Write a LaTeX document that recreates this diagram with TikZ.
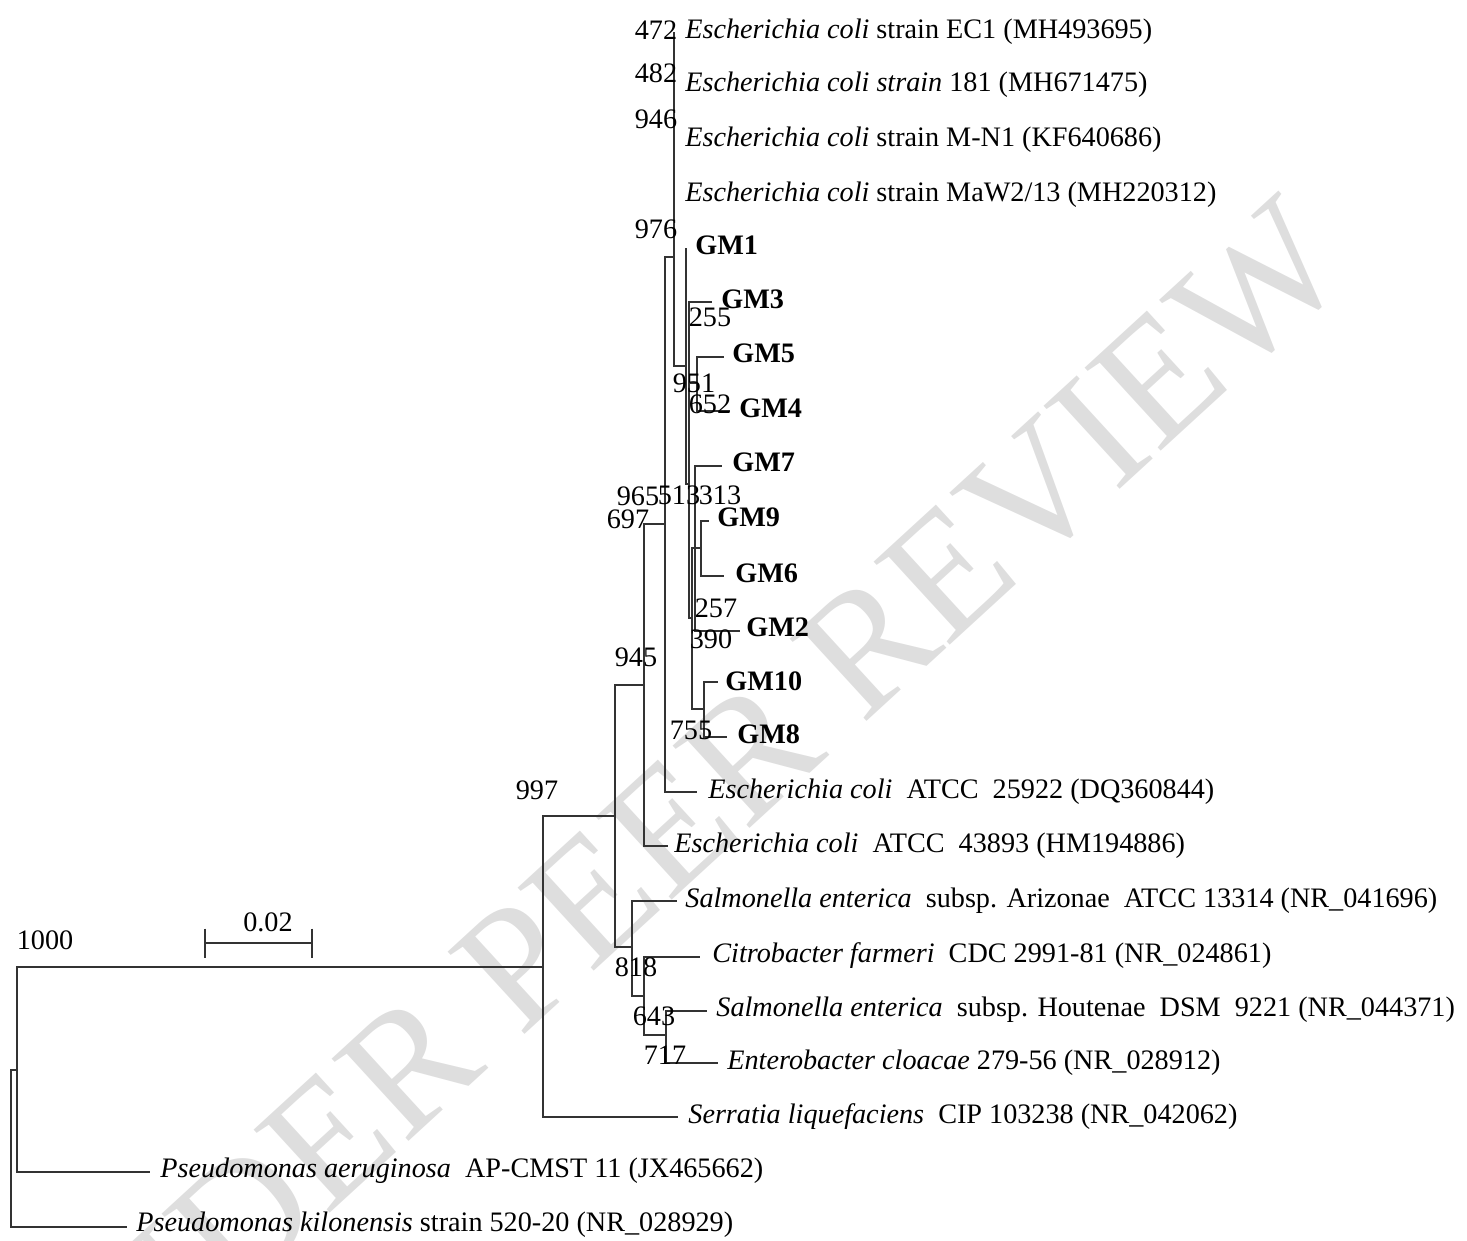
\documentclass[tikz,border=0pt]{standalone}
\usepackage{fontspec}
\setmainfont{Liberation Serif}
\begin{document}
\begin{tikzpicture}[x=0.5pt,y=-0.5pt,
  br/.style={draw=black!80, line width=0.55pt},
  leaf/.style={anchor=west, inner sep=0pt, text height=0.66em, text depth=0pt, font=\fontsize{14.1}{17}\selectfont},
  gm/.style={leaf, font=\fontsize{14.1}{17}\selectfont\bfseries},
  boot/.style={anchor=center, inner sep=0pt, text height=0.66em, text depth=0pt, font=\fontsize{14.1}{17}\selectfont},
  wm/.style={rotate=42.5, text=black!13, inner sep=0pt, text height=0.66em, text depth=0pt, font=\fontsize{86}{86}\selectfont}]
\useasboundingbox (0,0) rectangle (1467,1241);
% watermark
\node[wm] (wmark) at (699,866) {UNDER PEER REVIEW};

% internal nodes
\coordinate (root) at (11,1148);
\coordinate (n1000) at (17,1070);
\coordinate (n997) at (543,967);
\coordinate (n945) at (615,816);
\coordinate (n697) at (644,685);
\coordinate (n965) at (665,524);
\coordinate (n976) at (674,257);
\coordinate (n951) at (686,366);
\coordinate (n255) at (689,484);
\coordinate (n652) at (697,383);
\coordinate (n390) at (692,618);
\coordinate (n313) at (695,548);
\coordinate (n257) at (701,548);
\coordinate (n755) at (704,709);
\coordinate (n818) at (632,947);
\coordinate (n643) at (644,996);
\coordinate (n717) at (666,1035);

% leaf ends
\coordinate (e1) at (674,32);
\coordinate (gm1) at (686,248);
\coordinate (gm3) at (712,302);
\coordinate (gm5) at (724,357);
\coordinate (gm4) at (730,411);
\coordinate (gm7) at (722,466);
\coordinate (gm9) at (709,521);
\coordinate (gm6) at (724,576);
\coordinate (gm2) at (740,631);
\coordinate (gm10) at (718,682);
\coordinate (gm8) at (727,737);
\coordinate (ecA) at (697,792);
\coordinate (ecB) at (668,846);
\coordinate (ariz) at (677,901);
\coordinate (citro) at (700,957);
\coordinate (hout) at (707,1011);
\coordinate (entero) at (718,1063);
\coordinate (serr) at (678,1117);
\coordinate (aer) at (150,1172);
\coordinate (kil) at (127,1227);

% branches
\draw[br] (root) |- (n1000);
\draw[br] (root) |- (kil);
\draw[br] (n1000) |- (n997);
\draw[br] (n1000) |- (aer);
\draw[br] (n997) |- (n945);
\draw[br] (n997) |- (serr);
\draw[br] (n945) |- (n697);
\draw[br] (n945) |- (n818);
\draw[br] (n697) |- (n965);
\draw[br] (n697) |- (ecB);
\draw[br] (n965) |- (n976);
\draw[br] (n965) |- (ecA);
\draw[br] (n976) -- (e1);
\draw[br] (n976) |- (n951);
\draw[br] (n951) -- (gm1);
\draw[br] (n951) |- (n255);
\draw[br] (n255) |- (gm3);
\draw[br] (n255) |- (n652);
\draw[br] (n255) |- (n390);
\draw[br] (n652) |- (gm5);
\draw[br] (n652) |- (gm4);
\draw[br] (n390) |- (n313);
\draw[br] (n390) |- (n755);
\draw[br] (n313) |- (gm7);
\draw[br] (n313) |- (n257);
\draw[br] (n313) |- (gm2);
\draw[br] (n257) |- (gm9);
\draw[br] (n257) |- (gm6);
\draw[br] (n755) |- (gm10);
\draw[br] (n755) |- (gm8);
\draw[br] (n818) |- (ariz);
\draw[br] (n818) |- (n643);
\draw[br] (n643) |- (citro);
\draw[br] (n643) |- (n717);
\draw[br] (n717) |- (hout);
\draw[br] (n717) |- (entero);

% leaf labels
\node[leaf] (t1) at (685,32) {\textit{Escherichia coli} strain EC1 (MH493695)};
\node[leaf] (t2) at (685,85) {\textit{Escherichia coli strain} 181 (MH671475)};
\node[leaf] (t3) at (685,140) {\textit{Escherichia coli} strain M-N1 (KF640686)};
\node[leaf] (t4) at (685,195) {\textit{Escherichia coli} strain MaW2/13 (MH220312)};
\node[gm] (tgm1) at (695,248) {GM1};
\node[gm] (tgm3) at (721,302) {GM3};
\node[gm] (tgm5) at (732,356) {GM5};
\node[gm] (tgm4) at (739,411) {GM4};
\node[gm] (tgm7) at (732,465) {GM7};
\node[gm] (tgm9) at (717,520) {GM9};
\node[gm] (tgm6) at (735,576) {GM6};
\node[gm] (tgm2) at (746,630) {GM2};
\node[gm] (tgm10) at (725,684) {GM10};
\node[gm] (tgm8) at (737,737) {GM8};
\node[leaf] (tecA) at (708,792) {\textit{Escherichia coli}\ \ ATCC\ \ 25922 (DQ360844)};
\node[leaf] (tecB) at (674,846) {\textit{Escherichia coli}\ \ ATCC\ \ 43893 (HM194886)};
\node[leaf] (tariz) at (685,901) {\textit{Salmonella enterica}\ \ subsp. Arizonae\ \ ATCC 13314 (NR\_041696)};
\node[leaf] (tcitro) at (712,956) {\textit{Citrobacter farmeri}\ \ CDC 2991-81 (NR\_024861)};
\node[leaf] (thout) at (716,1010) {\textit{Salmonella enterica}\ \ subsp. Houtenae\ \ DSM\ \ 9221 (NR\_044371)};
\node[leaf] (tentero) at (727,1063) {\textit{Enterobacter cloacae} 279-56 (NR\_028912)};
\node[leaf] (tserr) at (688,1117) {\textit{Serratia liquefaciens}\ \ CIP 103238 (NR\_042062)};
\node[leaf] (taer) at (160,1171) {\textit{Pseudomonas aeruginosa}\ \ AP-CMST 11 (JX465662)};
\node[leaf] (tkil) at (136,1225) {\textit{Pseudomonas kilonensis} strain 520-20 (NR\_028929)};

% bootstrap values
\node[boot] (b1000) at (45,943) {1000};
\node[boot] (b997) at (537,793) {997};
\node[boot] (b945) at (636,660) {945};
\node[boot] (b818) at (636,970) {818};
\node[boot] (b643) at (654,1019) {643};
\node[boot] (b717) at (665,1058) {717};
\node[boot] (b697) at (628,522) {697};
\node[boot] (b965) at (638,499) {965};
\node[boot] (b513) at (679,498) {513};
\node[boot] (b313) at (720,498) {313};
\node[boot] (b976) at (656,232) {976};
\node[boot] (b472) at (656,33) {472};
\node[boot] (b482) at (656,76) {482};
\node[boot] (b946) at (656,122) {946};
\node[boot] (b255) at (710,320) {255};
\node[boot] (b951) at (694,386) {951};
\node[boot] (b652) at (710,407) {652};
\node[boot] (b257) at (716,611) {257};
\node[boot] (b390) at (711,642) {390};
\node[boot] (b755) at (691,733) {755};

% scale bar
\coordinate (sbL) at (205,943);
\coordinate (sbR) at (312,943);
\draw[br] (sbL) -- (sbR);
\draw[br] ([yshift=7.25pt]sbL) -- ([yshift=-7.25pt]sbL);
\draw[br] ([yshift=7.25pt]sbR) -- ([yshift=-7.25pt]sbR);
\node[boot] (sbt) at (268,925) {0.02};
\end{tikzpicture}
\end{document}
